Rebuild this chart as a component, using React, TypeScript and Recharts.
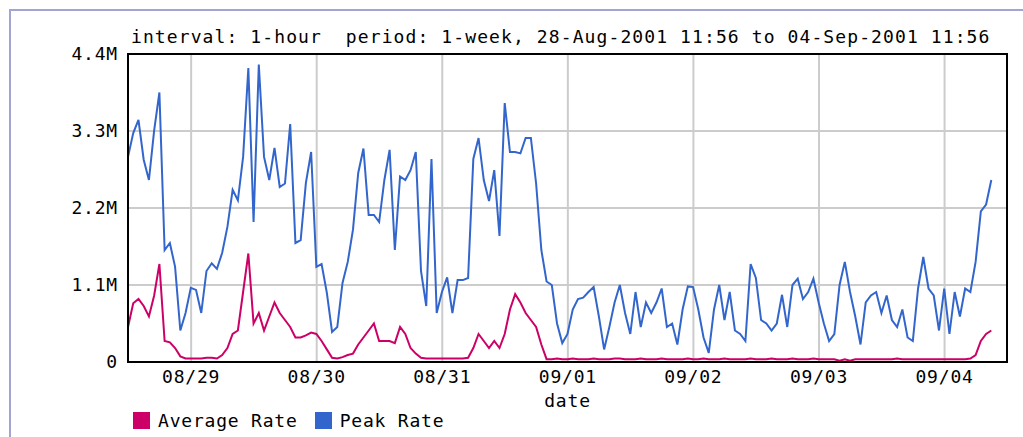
import {
  LineChart,
  Line,
  XAxis,
  YAxis,
  CartesianGrid,
  ReferenceArea,
} from "recharts";

// hourly samples starting 28-Aug-2001 11:56, values in millions
const peakRate = [
  2.93, 3.27, 3.46, 2.89, 2.6, 3.31, 3.85, 1.6, 1.7, 1.36,
  0.45, 0.7, 1.06, 1.03, 0.7, 1.3, 1.41, 1.33, 1.56, 1.93,
  2.46, 2.31, 2.93, 4.2, 2.0, 4.25, 2.93, 2.6, 3.06, 2.5,
  2.55, 3.4, 1.7, 1.74, 2.56, 3.0, 1.36, 1.4, 0.99, 0.43,
  0.5, 1.13, 1.43, 1.89, 2.7, 3.05, 2.1, 2.1, 2.0, 2.6,
  3.03, 1.6, 2.65, 2.6, 2.74, 3.0, 1.3, 0.8, 2.9, 0.7,
  1.0, 1.21, 0.7, 1.17, 1.17, 1.2, 2.9, 3.2, 2.6, 2.3,
  2.74, 1.8, 3.7, 3.0, 3.0, 2.98, 3.2, 3.2, 2.55, 1.6,
  1.15, 1.1, 0.55, 0.27, 0.4, 0.75, 0.9, 0.92, 1.0, 1.07,
  0.65, 0.18, 0.5, 0.85, 1.1, 0.7, 0.4, 1.0, 0.5, 0.85,
  0.7, 0.85, 1.05, 0.5, 0.55, 0.25, 0.75, 1.08, 1.07, 0.75,
  0.35, 0.13, 0.75, 1.1, 0.6, 1.0, 0.45, 0.4, 0.3, 1.4,
  1.2, 0.6, 0.55, 0.45, 0.55, 0.96, 0.5, 1.1, 1.19, 0.9,
  1.0, 1.19, 0.85, 0.55, 0.3, 0.4, 1.1, 1.43, 1.0, 0.65,
  0.25, 0.85, 0.95, 1.0, 0.7, 0.95, 0.6, 0.5, 0.75, 0.35,
  0.3, 1.05, 1.5, 1.05, 0.95, 0.45, 1.05, 0.4, 1.0, 0.65,
  1.05, 1.0, 1.43, 2.15, 2.25, 2.6,
];

const averageRate = [
  0.5, 0.84, 0.9, 0.8, 0.65, 0.95, 1.4, 0.3, 0.28, 0.2,
  0.08, 0.05, 0.05, 0.05, 0.05, 0.06, 0.06, 0.05, 0.1, 0.2,
  0.4, 0.45, 1.0, 1.55, 0.55, 0.7, 0.45, 0.65, 0.85, 0.7,
  0.6, 0.5, 0.35, 0.35, 0.38, 0.42, 0.4, 0.3, 0.18, 0.06,
  0.05, 0.07, 0.1, 0.12, 0.25, 0.35, 0.45, 0.55, 0.3, 0.3,
  0.3, 0.27, 0.5, 0.4, 0.2, 0.12, 0.06, 0.05, 0.05, 0.05,
  0.05, 0.05, 0.05, 0.05, 0.05, 0.06, 0.2, 0.4, 0.3, 0.2,
  0.3, 0.2, 0.4, 0.75, 0.97, 0.85, 0.7, 0.6, 0.5, 0.25,
  0.04, 0.04, 0.05, 0.04, 0.04, 0.05, 0.04, 0.04, 0.04, 0.05,
  0.04, 0.04, 0.04, 0.05, 0.05, 0.04, 0.04, 0.04, 0.05, 0.04,
  0.04, 0.04, 0.05, 0.04, 0.04, 0.04, 0.04, 0.05, 0.04, 0.04,
  0.05, 0.04, 0.04, 0.04, 0.05, 0.04, 0.04, 0.04, 0.04, 0.05,
  0.04, 0.04, 0.04, 0.05, 0.04, 0.04, 0.04, 0.05, 0.04, 0.04,
  0.04, 0.05, 0.04, 0.04, 0.04, 0.04, 0.02, 0.04, 0.02, 0.04,
  0.04, 0.04, 0.04, 0.04, 0.04, 0.04, 0.04, 0.05, 0.04, 0.04,
  0.04, 0.04, 0.04, 0.04, 0.04, 0.04, 0.04, 0.04, 0.04, 0.04,
  0.04, 0.05, 0.1, 0.3, 0.4, 0.45,
];

const dayLabels = ["08/29", "08/30", "08/31", "09/01", "09/02", "09/03", "09/04"];
const yTicks = [0, 1.1, 2.2, 3.3, 4.4];
const yLabels = ["0", "1.1M", "2.2M", "3.3M", "4.4M"];

// first midnight is 12h04m after the start of the period
const firstMidnight = 12 + 4 / 60;
const dayTicks = dayLabels.map((_, i) => firstMidnight + 24 * i);

const data = peakRate.map((p, h) => ({
  h,
  peak: p,
  avg: averageRate[h],
}));

const FONT = "'DejaVu Sans Mono', monospace";
const PINK = "#cc0066";
const BLUE = "#3366cc";

const tickStyle = {
  fill: "#000",
  fontFamily: FONT,
  fontSize: 18,
  letterSpacing: 0.8,
};

const legendItems = [
  { name: "Average Rate", color: PINK },
  { name: "Peak Rate", color: BLUE },
];

export default function App() {
  return (
    <div
      style={{
        position: "absolute",
        left: 0,
        top: 0,
        width: 1023,
        height: 437,
        overflow: "hidden",
        background: "#fff",
      }}
    >
      <div
        style={{
          position: "absolute",
          left: 9,
          top: 9,
          width: 1014,
          height: 428,
          borderLeft: "2px solid #a4a4d0",
          borderTop: "2px solid #a4a4d0",
          boxSizing: "border-box",
        }}
      />
      <div
        style={{
          position: "absolute",
          left: 131,
          top: 27,
          fontFamily: FONT,
          fontSize: 18,
          letterSpacing: 1.1,
          whiteSpace: "pre",
          lineHeight: "20px",
        }}
      >
        interval: 1-hour  period: 1-week, 28-Aug-2001 11:56 to 04-Sep-2001 11:56
      </div>
      <div style={{ position: "absolute", left: 0, top: 0 }}>
        <LineChart
          width={1023}
          height={437}
          data={data}
          margin={{ top: 54, right: 16, bottom: 30, left: 68 }}
        >
          <CartesianGrid stroke="#cccccc" strokeWidth={2} />
          <XAxis
            dataKey="h"
            type="number"
            domain={[0, 168]}
            ticks={dayTicks}
            tickFormatter={(v: number) => dayLabels[dayTicks.indexOf(v)]}
            tick={tickStyle}
            tickLine={false}
            axisLine={{ stroke: "#000", strokeWidth: 2 }}
            height={45}
            label={{
              value: "date",
              position: "insideBottom",
              offset: 0,
              style: { ...tickStyle },
            }}
          />
          <YAxis
            type="number"
            domain={[0, 4.4]}
            ticks={yTicks}
            tickFormatter={(v: number) => yLabels[yTicks.indexOf(v)]}
            tick={tickStyle}
            tickLine={false}
            tickMargin={4}
            axisLine={{ stroke: "#000", strokeWidth: 2 }}
            width={60}
          />
          <ReferenceArea
            x1={0}
            x2={168}
            y1={0}
            y2={4.4}
            fill="none"
            stroke="#000"
            strokeWidth={2}
          />
          <Line
            type="linear"
            dataKey="peak"
            stroke={BLUE}
            strokeWidth={2}
            dot={false}
            isAnimationActive={false}
          />
          <Line
            type="linear"
            dataKey="avg"
            stroke={PINK}
            strokeWidth={2}
            dot={false}
            isAnimationActive={false}
          />
        </LineChart>
      </div>
      <div
        style={{
          position: "absolute",
          left: 133,
          top: 411,
          display: "flex",
          fontFamily: FONT,
          fontSize: 18,
          letterSpacing: 0.8,
          lineHeight: "19px",
        }}
      >
        {legendItems.map((it) => (
          <div key={it.name} style={{ display: "flex", alignItems: "center", marginRight: 17 }}>
            <span
              style={{
                width: 17,
                height: 17,
                background: it.color,
                display: "inline-block",
                marginRight: 8,
              }}
            />
            <span>{it.name}</span>
          </div>
        ))}
      </div>
    </div>
  );
}
